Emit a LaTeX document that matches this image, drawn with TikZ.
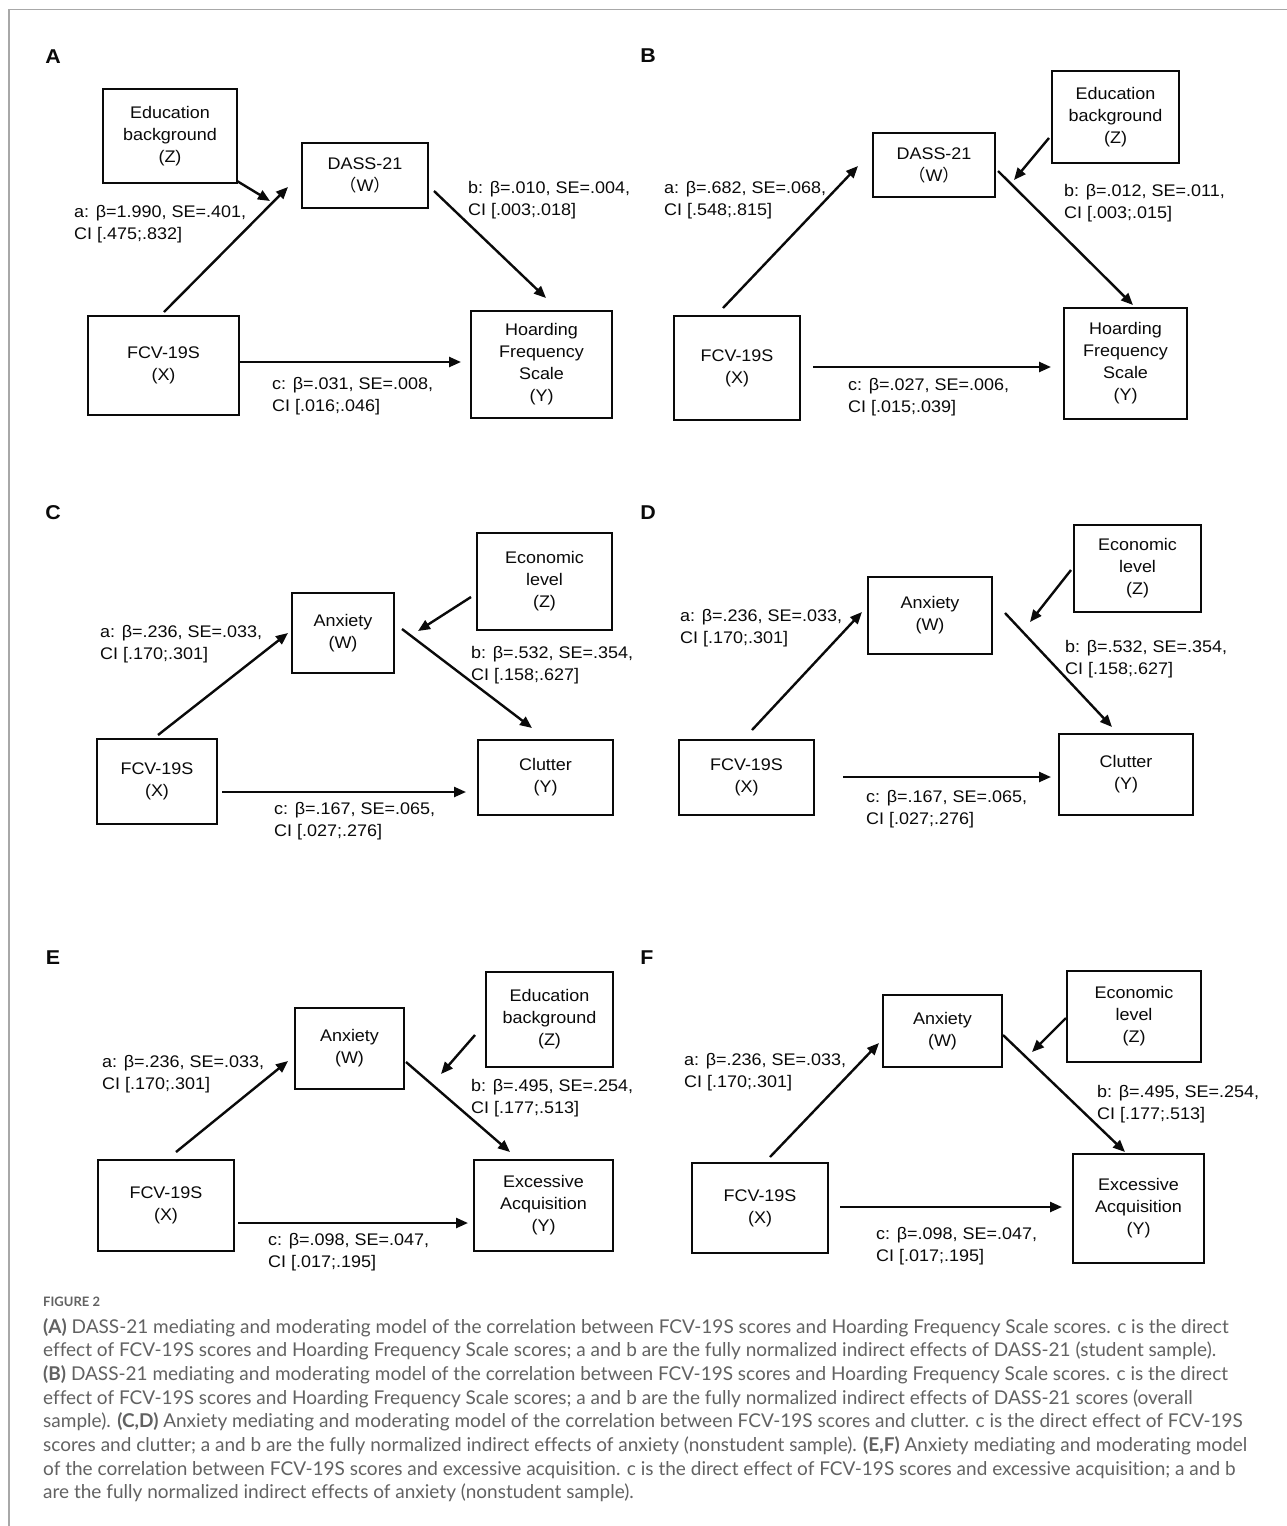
\documentclass[tikz,border=0pt]{standalone}
\usepackage{fontspec}
\setmainfont{Liberation Sans}[FakeStretch=1.07]
\newfontfamily\cjk{Noto Sans CJK SC}
\newfontfamily\capfont{Lato}[Ligatures=NoCommon]
\usetikzlibrary{arrows.meta}
\definecolor{capgray}{HTML}{626262}
\definecolor{framegray}{HTML}{A8A8A8}
\definecolor{ink}{HTML}{0A0A0A}
\newcommand{\fw}[1]{{\cjk （}#1{\cjk ）}}
\begin{document}
\begin{tikzpicture}[x=1pt,y=-1pt,
  box/.style={draw=ink, text=ink, line width=2.6pt, inner sep=0pt, align=center,
    font=\fontsize{16.8}{22}\selectfont},
  lab/.style={anchor=west, inner sep=0pt, align=left, text=ink,
    font=\fontsize{16.8}{22}\selectfont},
  letter/.style={inner sep=0pt, text=ink, font=\bfseries\fontsize{20}{20}\selectfont},
  arr/.style={draw=ink, line width=2.4pt, -{Triangle[length=12pt,width=10pt]}},
  capline/.style={anchor=base west, inner sep=0pt, text=capgray,
    font=\capfont\fontsize{19}{23.7}\selectfont},
  frame/.style={draw=framegray, line width=1.6pt}
]
\useasboundingbox (0,0) rectangle (1287,1526);
\fill[white] (0,0) rectangle (1287,1526);
\coordinate (fr1) at (1287,9.5);
\coordinate (fr2) at (9,9.5);
\coordinate (fr3) at (9,1526);
\draw[frame] (fr1) -- (fr2) -- (fr3);

% ---------------- Panel A ----------------
\node[letter] (LA) at (53,57) {A};
\node[box, minimum width=134pt, minimum height=94pt] (Aedu) at (170,136) {Education\\background\\(Z)};
\node[box, minimum width=126pt, minimum height=65pt] (Adass) at (365,175.5) {DASS-21\\\fw{W}};
\node[box, minimum width=151pt, minimum height=99pt] (Afcv) at (163.5,365.5) {FCV-19S\\(X)};
\node[box, minimum width=141pt, minimum height=107pt] (Ahfs) at (541.5,364.5) {Hoarding\\Frequency\\Scale\\(Y)};
\coordinate (Aa1) at (164,312); \coordinate (Aa2) at (288,187);
\coordinate (Az1) at (237,181); \coordinate (Az2) at (270,201);
\coordinate (Ab1) at (434,191); \coordinate (Ab2) at (546,298);
\coordinate (Ac1) at (239,362); \coordinate (Ac2) at (461,362);
\draw[arr] (Aa1) -- (Aa2);
\draw[arr] (Az1) -- (Az2);
\draw[arr] (Ab1) -- (Ab2);
\draw[arr] (Ac1) -- (Ac2);
\node[lab] (Ala) at (74,224.5) {a: β=1.990, SE=.401,\\CI [.475;.832]};
\node[lab] (Alb) at (468,200) {b: β=.010, SE=.004,\\CI [.003;.018]};
\node[lab] (Alc) at (272,396.5) {c: β=.031, SE=.008,\\CI [.016;.046]};

% ---------------- Panel B ----------------
\node[letter] (LB) at (648,56) {B};
\node[box, minimum width=127pt, minimum height=92pt] (Bedu) at (1115.5,117) {Education\\background\\(Z)};
\node[box, minimum width=122pt, minimum height=64pt] (Bdass) at (934,165) {DASS-21\\\fw{W}};
\node[box, minimum width=126pt, minimum height=104pt] (Bfcv) at (737,368) {FCV-19S\\(X)};
\node[box, minimum width=123pt, minimum height=111pt] (Bhfs) at (1125.5,363.5) {Hoarding\\Frequency\\Scale\\(Y)};
\coordinate (Ba1) at (723,308); \coordinate (Ba2) at (858,166);
\coordinate (Bz1) at (1049,138); \coordinate (Bz2) at (1014,180);
\coordinate (Bb1) at (998,171); \coordinate (Bb2) at (1133,305);
\coordinate (Bc1) at (813,367); \coordinate (Bc2) at (1051,367);
\draw[arr] (Ba1) -- (Ba2);
\draw[arr] (Bz1) -- (Bz2);
\draw[arr] (Bb1) -- (Bb2);
\draw[arr] (Bc1) -- (Bc2);
\node[lab] (Bla) at (664,200.5) {a: β=.682, SE=.068,\\CI [.548;.815]};
\node[lab] (Blb) at (1064,203) {b: β=.012, SE=.011,\\CI [.003;.015]};
\node[lab] (Blc) at (848,397) {c: β=.027, SE=.006,\\CI [.015;.039]};

% ---------------- Panel C ----------------
\node[letter] (LC) at (53,513) {C};
\node[box, minimum width=135pt, minimum height=97pt] (Ceco) at (544.5,581.5) {Economic\\level\\(Z)};
\node[box, minimum width=102pt, minimum height=80pt] (Canx) at (343,633) {Anxiety\\(W)};
\node[box, minimum width=120pt, minimum height=85pt] (Cfcv) at (157,781.5) {FCV-19S\\(X)};
\node[box, minimum width=135pt, minimum height=75pt] (Cclu) at (545.5,777.5) {Clutter\\(Y)};
\coordinate (Ca1) at (158,735); \coordinate (Ca2) at (288,633);
\coordinate (Cz1) at (471,597); \coordinate (Cz2) at (418,631);
\coordinate (Cb1) at (402,629); \coordinate (Cb2) at (532,728);
\coordinate (Cc1) at (222,792); \coordinate (Cc2) at (466,792);
\draw[arr] (Ca1) -- (Ca2);
\draw[arr] (Cz1) -- (Cz2);
\draw[arr] (Cb1) -- (Cb2);
\draw[arr] (Cc1) -- (Cc2);
\node[lab] (Cla) at (100,644.5) {a: β=.236, SE=.033,\\CI [.170;.301]};
\node[lab] (Clb) at (471,665.5) {b: β=.532, SE=.354,\\CI [.158;.627]};
\node[lab] (Clc) at (274,821) {c: β=.167, SE=.065,\\CI [.027;.276]};

% ---------------- Panel D ----------------
\node[letter] (LD) at (648,513) {D};
\node[box, minimum width=127pt, minimum height=87pt] (Deco) at (1137.5,568.5) {Economic\\level\\(Z)};
\node[box, minimum width=124pt, minimum height=77pt] (Danx) at (930,615.5) {Anxiety\\(W)};
\node[box, minimum width=135pt, minimum height=75pt] (Dfcv) at (746.5,777.5) {FCV-19S\\(X)};
\node[box, minimum width=134pt, minimum height=81pt] (Dclu) at (1126,774.5) {Clutter\\(Y)};
\coordinate (Da1) at (752,730); \coordinate (Da2) at (862,612);
\coordinate (Dz1) at (1071,570); \coordinate (Dz2) at (1030,622);
\coordinate (Db1) at (1005,613); \coordinate (Db2) at (1112,727);
\coordinate (Dc1) at (843,777); \coordinate (Dc2) at (1051,777);
\draw[arr] (Da1) -- (Da2);
\draw[arr] (Dz1) -- (Dz2);
\draw[arr] (Db1) -- (Db2);
\draw[arr] (Dc1) -- (Dc2);
\node[lab] (Dla) at (680,628.5) {a: β=.236, SE=.033,\\CI [.170;.301]};
\node[lab] (Dlb) at (1065,659) {b: β=.532, SE=.354,\\CI [.158;.627]};
\node[lab] (Dlc) at (866,809) {c: β=.167, SE=.065,\\CI [.027;.276]};

% ---------------- Panel E ----------------
\node[letter] (LE) at (53,958) {E};
\node[box, minimum width=127pt, minimum height=95pt] (Eedu) at (549.5,1019.5) {Education\\background\\(Z)};
\node[box, minimum width=109pt, minimum height=81pt] (Eanx) at (349.5,1048.5) {Anxiety\\(W)};
\node[box, minimum width=136pt, minimum height=91pt] (Efcv) at (166,1205.5) {FCV-19S\\(X)};
\node[box, minimum width=139pt, minimum height=91pt] (Eexc) at (543.5,1205.5) {Excessive\\Acquisition\\(Y)};
\coordinate (Ea1) at (176,1152); \coordinate (Ea2) at (288,1061);
\coordinate (Ez1) at (475,1035); \coordinate (Ez2) at (441,1074);
\coordinate (Eb1) at (406,1062); \coordinate (Eb2) at (510,1152);
\coordinate (Ec1) at (238,1223); \coordinate (Ec2) at (468,1223);
\draw[arr] (Ea1) -- (Ea2);
\draw[arr] (Ez1) -- (Ez2);
\draw[arr] (Eb1) -- (Eb2);
\draw[arr] (Ec1) -- (Ec2);
\node[lab] (Ela) at (102,1074.5) {a: β=.236, SE=.033,\\CI [.170;.301]};
\node[lab] (Elb) at (471,1098.5) {b: β=.495, SE=.254,\\CI [.177;.513]};
\node[lab] (Elc) at (268,1252.5) {c: β=.098, SE=.047,\\CI [.017;.195]};

% ---------------- Panel F ----------------
\node[letter] (LF) at (647,958) {F};
\node[box, minimum width=134pt, minimum height=91pt] (Feco) at (1134,1016.5) {Economic\\level\\(Z)};
\node[box, minimum width=119pt, minimum height=72pt] (Fanx) at (942.5,1031) {Anxiety\\(W)};
\node[box, minimum width=136pt, minimum height=90pt] (Ffcv) at (760,1208) {FCV-19S\\(X)};
\node[box, minimum width=131pt, minimum height=109pt] (Fexc) at (1138.5,1208.5) {Excessive\\Acquisition\\(Y)};
\coordinate (Fa1) at (770,1157); \coordinate (Fa2) at (879,1043);
\coordinate (Fz1) at (1066,1018); \coordinate (Fz2) at (1032,1052);
\coordinate (Fb1) at (1003,1035); \coordinate (Fb2) at (1125,1152);
\coordinate (Fc1) at (840,1207); \coordinate (Fc2) at (1062,1207);
\draw[arr] (Fa1) -- (Fa2);
\draw[arr] (Fz1) -- (Fz2);
\draw[arr] (Fb1) -- (Fb2);
\draw[arr] (Fc1) -- (Fc2);
\node[lab] (Fla) at (684,1072) {a: β=.236, SE=.033,\\CI [.170;.301]};
\node[lab] (Flb) at (1097,1104.5) {b: β=.495, SE=.254,\\CI [.177;.513]};
\node[lab] (Flc) at (876,1246) {c: β=.098, SE=.047,\\CI [.017;.195]};

% ---------------- Caption ----------------
\node[capline, font=\capfont\bfseries\fontsize{13}{15}\selectfont] (fig) at (43,1306) {FIGURE 2};
\node[capline] (cap1) at (43,1333) {\textbf{(A)} DASS-21 mediating and moderating model of the correlation between FCV-19S scores and Hoarding Frequency Scale scores. c is the direct};
\node[capline] (cap2) at (43,1356.7) {effect of FCV-19S scores and Hoarding Frequency Scale scores; a and b are the fully normalized indirect effects of DASS-21 (student sample).};
\node[capline] (cap3) at (43,1380.4) {\textbf{(B)} DASS-21 mediating and moderating model of the correlation between FCV-19S scores and Hoarding Frequency Scale scores. c is the direct};
\node[capline] (cap4) at (43,1404.1) {effect of FCV-19S scores and Hoarding Frequency Scale scores; a and b are the fully normalized indirect effects of DASS-21 scores (overall};
\node[capline] (cap5) at (43,1427.8) {sample). \textbf{(C,D)} Anxiety mediating and moderating model of the correlation between FCV-19S scores and clutter. c is the direct effect of FCV-19S};
\node[capline] (cap6) at (43,1451.5) {scores and clutter; a and b are the fully normalized indirect effects of anxiety (nonstudent sample). \textbf{(E,F)} Anxiety mediating and moderating model};
\node[capline] (cap7) at (43,1475.2) {of the correlation between FCV-19S scores and excessive acquisition. c is the direct effect of FCV-19S scores and excessive acquisition; a and b};
\node[capline] (cap8) at (43,1498.9) {are the fully normalized indirect effects of anxiety (nonstudent sample).};
\end{tikzpicture}
\end{document}
